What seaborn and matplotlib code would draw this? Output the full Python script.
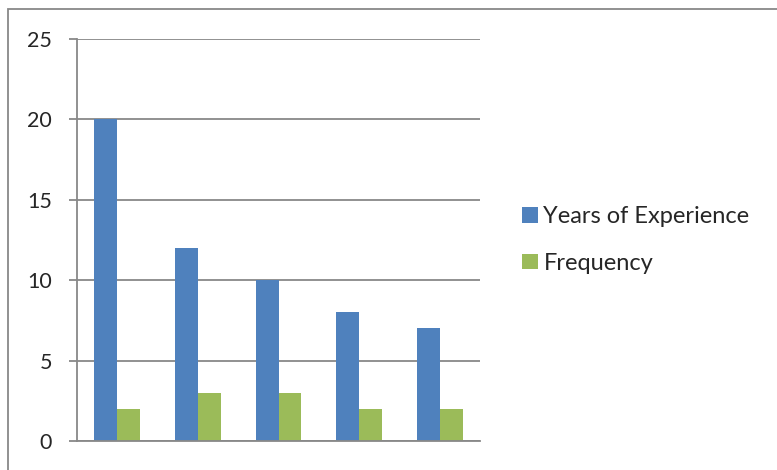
import pandas as pd
import matplotlib
matplotlib.use("Agg")
import matplotlib.pyplot as plt
import seaborn as sns
from matplotlib.patches import Rectangle

# chart values
groups = ["1", "2", "3", "4", "5"]
years_of_experience = [20, 12, 10, 8, 7]
frequency = [2, 3, 3, 2, 2]
series_names = ["Years of Experience", "Frequency"]

df = pd.DataFrame({
    "group": groups * 2,
    "value": years_of_experience + frequency,
    "series": [series_names[0]] * len(groups) + [series_names[1]] * len(groups),
})

sns.set_style("white")
plt.rcParams["font.family"] = ["Lato", "DejaVu Sans"]

fig = plt.figure(figsize=(7.77, 4.70), dpi=100)
ax = fig.add_axes([77 / 777, 1 - 441 / 470, 403 / 777, 402 / 470])

sns.barplot(data=df, x="group", y="value", hue="series",
            palette=["#4F81BD", "#9BBB59"], width=0.57, gap=0,
            edgecolor="none", saturation=1, ax=ax)

ax.set_ylim(0, 25)
ax.set_yticks([0, 5, 10, 15, 20, 25])
ax.yaxis.grid(True, color="#888888", linewidth=1.3)
ax.set_axisbelow(True)
ax.set_xlabel("")
ax.set_ylabel("")
ax.set_xticks([])
for side in ["top", "right"]:
    ax.spines[side].set_visible(False)
ax.spines["left"].set_color("#888888")
ax.spines["left"].set_linewidth(1.3)
ax.spines["bottom"].set_color("#888888")
ax.spines["bottom"].set_linewidth(1.3)
ax.tick_params(axis="y", length=6, width=1.3, color="#888888",
               labelsize=15.5, pad=12, direction="out", left=True)

handles, labels = ax.get_legend_handles_labels()
ax.legend(handles, labels, loc="center left", bbox_to_anchor=(1.052, 0.50),
          frameon=False, fontsize=17, handlelength=0.65, handleheight=0.65,
          handletextpad=0.25, labelspacing=1.08)

# thin border round the chart area
fig.patches.append(Rectangle((8 / 777, -0.1), 1.0, 1.1 - 9 / 470,
                             transform=fig.transFigure, fill=False,
                             edgecolor="#888888", linewidth=1.3))

fig.savefig("out.png", dpi=100)
